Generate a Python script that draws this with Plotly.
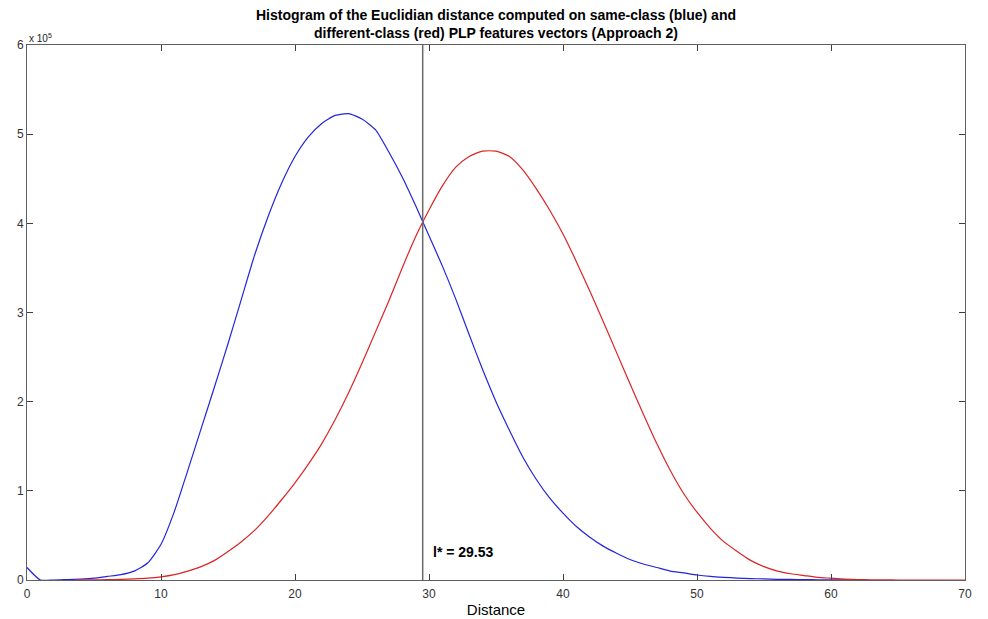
import plotly.graph_objects as go

# ---- data (counts; y axis shown in units of 1e5) ----
blue_x = list(range(0, 62)) + [61.5]
blue_y_e5 = [0.14, 0.0, 0.0, 0.005, 0.01, 0.02, 0.04, 0.06, 0.1, 0.19,
             0.4, 0.77, 1.23, 1.7, 2.17, 2.65, 3.15, 3.65, 4.08, 4.45,
             4.75, 4.97, 5.12, 5.21, 5.23, 5.17, 5.05, 4.8, 4.52, 4.2,
             3.86, 3.52, 3.15, 2.75, 2.36, 2.0, 1.68, 1.38, 1.13, 0.92,
             0.75, 0.6, 0.48, 0.38, 0.3, 0.23, 0.18, 0.14, 0.1, 0.08,
             0.056, 0.04, 0.03, 0.022, 0.016, 0.012, 0.008, 0.006, 0.004, 0.003,
             0.002, 0.001, 0.0]

red_x = [3.5] + list(range(4, 71))
red_y_e5 = [0.0, 0.001, 0.002, 0.004, 0.007, 0.012, 0.02, 0.035, 0.06, 0.1,
            0.15, 0.22, 0.32, 0.43, 0.56, 0.72, 0.9, 1.09, 1.3, 1.53,
            1.8, 2.1, 2.43, 2.78, 3.13, 3.5, 3.85, 4.15, 4.42, 4.63,
            4.75, 4.81, 4.81, 4.75, 4.6, 4.39, 4.15, 3.88, 3.57, 3.24,
            2.9, 2.55, 2.2, 1.86, 1.53, 1.23, 0.97, 0.76, 0.58, 0.43,
            0.32, 0.22, 0.15, 0.1, 0.07, 0.05, 0.03, 0.02, 0.01, 0.005,
            0.002, 0.001, 0.0, 0.0, 0.0, 0.0, 0.0, 0.0]

threshold = 29.53
scale = 1e5
x_ticks = [0, 10, 20, 30, 40, 50, 60, 70]
y_tick_labels = ["0", "1", "2", "3", "4", "5", "6"]
title_lines = ["Histogram of the Euclidian distance computed on same-class (blue) and",
               "different-class (red) PLP features vectors (Approach 2)"]

blue_y = [v * scale for v in blue_y_e5]
red_y = [v * scale for v in red_y_e5]

FONT = "Liberation Sans, Arial, sans-serif"

fig = go.Figure()
fig.add_trace(go.Scatter(x=blue_x, y=blue_y, mode="lines", line_shape="spline",
                         line=dict(color="#2424dc", width=1.2, smoothing=0.6), showlegend=False))
fig.add_trace(go.Scatter(x=red_x, y=red_y, mode="lines", line_shape="spline",
                         line=dict(color="#dc2424", width=1.2, smoothing=0.6), showlegend=False))
fig.add_trace(go.Scatter(x=[threshold, threshold], y=[0, 6 * scale], mode="lines",
                         line=dict(color="#6a6a6a", width=1.5), showlegend=False))

fig.add_annotation(x=threshold + 0.6, y=0.31 * scale, text="<b>l* = 29.53</b>",
                   showarrow=False, xanchor="left", yanchor="middle",
                   font=dict(family=FONT, size=14, color="black"))
fig.add_annotation(xref="paper", yref="paper", x=0, y=1, text="x 10<sup>5</sup>",
                   showarrow=False, xanchor="left", yanchor="bottom", yshift=-1,
                   font=dict(family=FONT, size=10, color="#222"))
fig.add_annotation(xref="paper", yref="paper", x=0.5, y=1, yshift=2,
                   text="<b>" + "<br>".join(title_lines) + "</b>",
                   showarrow=False, xanchor="center", yanchor="bottom",
                   font=dict(family=FONT, size=14, color="black"))

fig.update_layout(
    width=988, height=619,
    margin=dict(l=27, r=23, t=45, b=39),
    paper_bgcolor="white", plot_bgcolor="white",
    xaxis=dict(range=[0, 70], tickvals=x_ticks, ticks="inside", ticklen=6,
               showline=True, linecolor="#606060", linewidth=1, mirror="ticks",
               tickcolor="#404040", showgrid=False, zeroline=False,
               ticklabelstandoff=3, automargin=False,
               tickfont=dict(family=FONT, size=12, color="#333"),
               title=dict(text="Distance", font=dict(family=FONT, size=15, color="black"),
                          standoff=4)),
    yaxis=dict(range=[0, 6 * scale], tickvals=[i * scale for i in range(7)],
               ticktext=y_tick_labels, ticks="inside", ticklen=6, automargin=False,
               showline=True, linecolor="#606060", linewidth=1, mirror="ticks",
               tickcolor="#404040", showgrid=False, zeroline=False,
               tickfont=dict(family=FONT, size=12, color="#333")),
)

fig.write_html("out.html")
